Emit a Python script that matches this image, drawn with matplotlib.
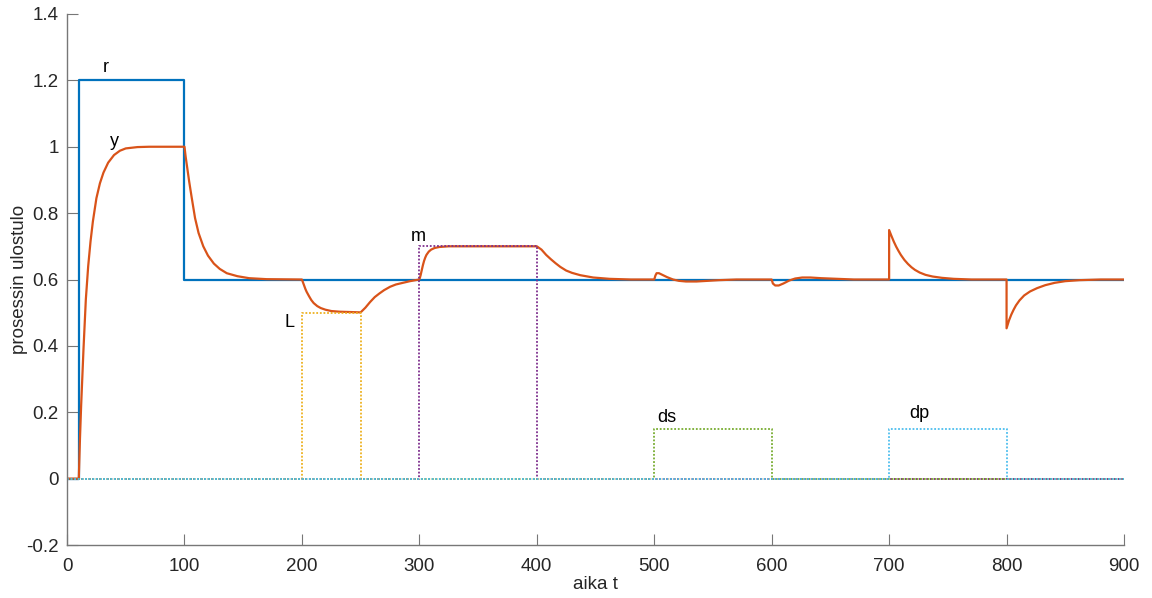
import matplotlib
matplotlib.use('Agg')
import matplotlib.pyplot as plt

# reference r (step)
r_t = [0, 10, 10, 100, 100, 900]
r_v = [0, 0, 1.2, 1.2, 0.6, 0.6]

# process output y
y_t = [0, 10, 11, 12, 14, 16, 18, 20, 22, 25, 28, 31, 35, 40, 45, 50, 60, 70, 100,
       101, 102, 104, 106, 109, 112, 116, 120, 125, 130, 136, 145, 155, 170, 200,
       201, 202, 203, 204, 206, 208, 210, 213, 216, 220, 225, 232, 240, 250,
       254, 258, 262, 266, 270, 275, 280, 286, 292, 300,
       301, 302, 303, 304, 305, 306, 308, 310, 313, 317, 325, 400,
       404, 408, 412, 416, 420, 425, 430, 437, 448, 462, 480, 500,
       501, 502, 504, 507, 511, 516, 521, 527, 536, 545, 555, 570, 600,
       601, 603, 606, 610, 615, 620, 626, 633, 642, 655, 670, 700,
       700, 701, 702, 704, 706, 708, 710, 713, 716, 719, 722, 726, 731, 737, 745, 755, 770, 800,
       800, 801, 802, 804, 806, 808, 811, 815, 820, 826, 833, 841, 850, 862, 880, 900]
y_v = [0, 0, 0.12, 0.22, 0.39, 0.54, 0.64, 0.715, 0.775, 0.845, 0.89, 0.922, 0.952, 0.975, 0.988, 0.995, 0.999, 1.0, 1.0,
       0.97, 0.945, 0.895, 0.85, 0.785, 0.74, 0.70, 0.672, 0.648, 0.632, 0.619, 0.61, 0.604, 0.601, 0.6,
       0.59, 0.58, 0.571, 0.563, 0.55, 0.538, 0.529, 0.52, 0.514, 0.509, 0.505, 0.503, 0.502, 0.501,
       0.515, 0.532, 0.547, 0.558, 0.568, 0.578, 0.585, 0.59, 0.595, 0.6,
       0.612, 0.628, 0.643, 0.656, 0.666, 0.674, 0.684, 0.69, 0.695, 0.698, 0.7, 0.7,
       0.69, 0.674, 0.661, 0.649, 0.638, 0.627, 0.62, 0.613, 0.606, 0.602, 0.6, 0.6,
       0.612, 0.619, 0.619, 0.614, 0.607, 0.6, 0.596, 0.594, 0.594, 0.596, 0.598, 0.6, 0.6,
       0.588, 0.582, 0.582, 0.588, 0.597, 0.603, 0.606, 0.606, 0.604, 0.602, 0.6, 0.6,
       0.749, 0.74, 0.731, 0.714, 0.699, 0.686, 0.674, 0.659, 0.647, 0.637, 0.629, 0.621, 0.614, 0.609, 0.605, 0.602, 0.6, 0.6,
       0.453, 0.465, 0.476, 0.494, 0.509, 0.522, 0.537, 0.552, 0.564, 0.574, 0.583, 0.59, 0.595, 0.598, 0.6, 0.6]

# disturbances (pulses)
L_t = [0, 200, 200, 250, 250, 900]
L_v = [0, 0, 0.5, 0.5, 0, 0]
m_t = [0, 300, 300, 400, 400, 900]
m_v = [0, 0, 0.7, 0.7, 0, 0]
ds_t = [0, 500, 500, 600, 600, 900]
ds_v = [0, 0, 0.15, 0.15, 0, 0]
dp_t = [0, 700, 700, 800, 800, 900]
dp_v = [0, 0, 0.15, 0.15, 0, 0]

# curve labels
lab_text = ['r', 'y', 'L', 'm', 'ds', 'dp']
lab_x = [33, 40, 189, 299, 511, 726]
lab_y = [1.24, 1.017, 0.47, 0.73, 0.185, 0.195]

x_ticks = [0, 100, 200, 300, 400, 500, 600, 700, 800, 900]
y_ticks = [-0.2, 0, 0.2, 0.4, 0.6, 0.8, 1, 1.2, 1.4]
y_tick_labels = ['-0.2', '0', '0.2', '0.4', '0.6', '0.8', '1', '1.2', '1.4']

plt.rcParams['font.family'] = ['Liberation Sans', 'DejaVu Sans']

fig = plt.figure(figsize = (11.52, 5.98), dpi = 100)
ax = fig.add_axes([0.0582, 0.0886, 0.9175, 0.888])

ax.plot(r_t, r_v, color = '#0072BD', lw = 1.6)
ax.plot(y_t, y_v, color = '#D95319', lw = 1.6)
dot = (0, (1, 1))
ax.plot(L_t, L_v, color = '#EDB120', lw = 1.3, ls = dot)
ax.plot(m_t, m_v, color = '#7E2F8E', lw = 1.3, ls = dot)
ax.plot(ds_t, ds_v, color = '#77AC30', lw = 1.3, ls = dot)
ax.plot(dp_t, dp_v, color = '#4DBEEE', lw = 1.3, ls = dot)

for s, x, y in zip(lab_text, lab_x, lab_y):
	ax.text(x, y, s, fontsize = 13, color = 'black', ha = 'center', va = 'center')

ax.set_xlim(0, 900)
ax.set_ylim(-0.2, 1.4)
ax.set_xticks(x_ticks)
ax.set_yticks(y_ticks)
ax.set_yticklabels(y_tick_labels)
ax.tick_params(direction = 'in', length = 8, width = 0.8, colors = '#777777',
	labelcolor = '#262626', labelsize = 13.5)
ax.tick_params(axis = 'x', pad = 9)
ax.tick_params(axis = 'y', pad = 6)
ax.spines['top'].set_visible(False)
ax.spines['right'].set_visible(False)
for sp in ['left', 'bottom']:
	ax.spines[sp].set_color('#777777')
	ax.spines[sp].set_linewidth(1.0)

ax.set_xlabel('aika t', fontsize = 13.5, color = '#262626')
ax.set_ylabel('prosessin ulostulo', fontsize = 13.5, color = '#262626')
ax.xaxis.set_label_coords(0.5, -0.075, transform = ax.transAxes)
ax.yaxis.set_label_coords(-0.045, 0.5, transform = ax.transAxes)
ax.xaxis.label.set_va('center')
ax.yaxis.label.set_va('center')

fig.savefig('out.png', dpi = 100)
